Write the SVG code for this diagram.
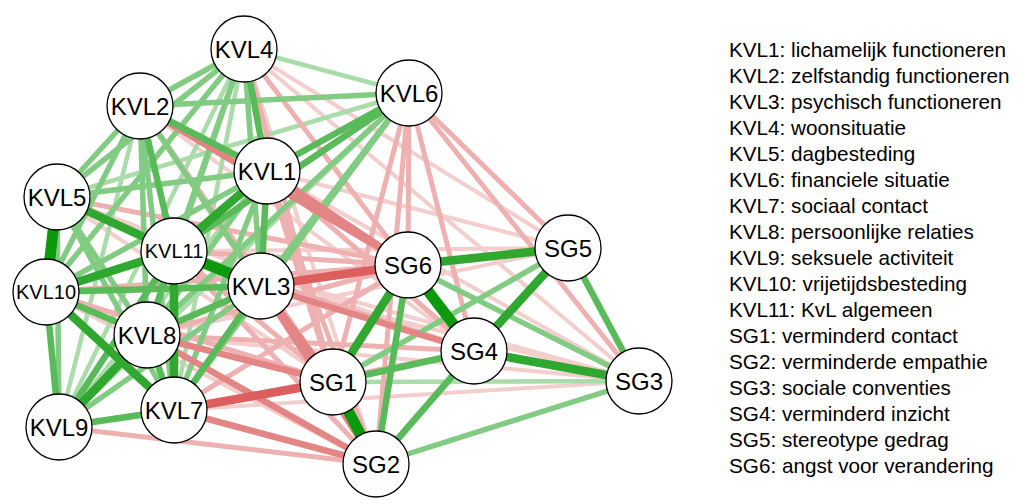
<svg xmlns="http://www.w3.org/2000/svg" width="1023" height="504" viewBox="0 0 1023 504">
<style>
line{stroke-linecap:butt}
.g1{stroke:#aadcaa;stroke-width:4.5}
.g2{stroke:#82cb82;stroke-width:5.5}
.g3{stroke:#58ba58;stroke-width:6.5}
.g4{stroke:#30a830;stroke-width:8.5}
.g5{stroke:#0c9a0c;stroke-width:11}
.r1{stroke:#f4cdcd;stroke-width:4}
.r2{stroke:#eeb0b0;stroke-width:5}
.r3{stroke:#e38585;stroke-width:6.5}
.r4{stroke:#dc5e5e;stroke-width:8.5}
.n circle{fill:#fff;stroke:#000;stroke-width:1.3}
.n text{font-family:"Liberation Sans",Arial,sans-serif;font-size:24px;text-anchor:middle;fill:#000}
.n text.s{font-size:20px}
.leg text{font-family:"Liberation Sans",Arial,sans-serif;font-size:20.7px;fill:#000}
</style>
<g id="connectors">
<line class="r1" x1="267" y1="171" x2="568" y2="248"/>
<line class="r1" x1="267" y1="171" x2="639" y2="381"/>
<line class="r1" x1="140" y1="106" x2="474" y2="351"/>
<line class="r1" x1="140" y1="106" x2="376" y2="464"/>
<line class="r1" x1="261" y1="286" x2="639" y2="381"/>
<line class="r1" x1="244" y1="49" x2="474" y2="351"/>
<line class="r1" x1="244" y1="49" x2="376" y2="464"/>
<line class="r1" x1="244" y1="49" x2="639" y2="381"/>
<line class="r1" x1="244" y1="49" x2="568" y2="248"/>
<line class="r1" x1="57" y1="197" x2="333" y2="382"/>
<line class="r1" x1="57" y1="197" x2="474" y2="351"/>
<line class="r1" x1="59" y1="427" x2="333" y2="382"/>
<line class="r1" x1="46" y1="292" x2="376" y2="464"/>
<line class="r1" x1="147" y1="335" x2="639" y2="381"/>
<line class="r1" x1="174" y1="410" x2="639" y2="381"/>
<line class="r1" x1="174" y1="251" x2="639" y2="381"/>
<line class="r1" x1="174" y1="251" x2="568" y2="248"/>
<line class="r1" x1="147" y1="335" x2="568" y2="248"/>
<line class="g1" x1="267" y1="171" x2="59" y2="427"/>
<line class="g1" x1="140" y1="106" x2="59" y2="427"/>
<line class="g1" x1="244" y1="49" x2="409" y2="93"/>
<line class="g1" x1="244" y1="49" x2="174" y2="410"/>
<line class="g1" x1="244" y1="49" x2="59" y2="427"/>
<line class="g1" x1="57" y1="197" x2="409" y2="93"/>
<line class="g1" x1="409" y1="93" x2="59" y2="427"/>
<line class="g1" x1="409" y1="93" x2="46" y2="292"/>
<line class="g1" x1="333" y1="382" x2="639" y2="381"/>
<line class="r2" x1="267" y1="171" x2="333" y2="382"/>
<line class="r2" x1="267" y1="171" x2="376" y2="464"/>
<line class="r2" x1="267" y1="171" x2="474" y2="351"/>
<line class="r2" x1="140" y1="106" x2="333" y2="382"/>
<line class="r2" x1="261" y1="286" x2="568" y2="248"/>
<line class="r2" x1="244" y1="49" x2="408" y2="265"/>
<line class="r2" x1="244" y1="49" x2="333" y2="382"/>
<line class="r2" x1="57" y1="197" x2="408" y2="265"/>
<line class="r2" x1="409" y1="93" x2="568" y2="248"/>
<line class="r2" x1="409" y1="93" x2="639" y2="381"/>
<line class="r2" x1="409" y1="93" x2="408" y2="265"/>
<line class="r2" x1="409" y1="93" x2="474" y2="351"/>
<line class="r2" x1="409" y1="93" x2="333" y2="382"/>
<line class="r2" x1="409" y1="93" x2="376" y2="464"/>
<line class="r2" x1="174" y1="410" x2="408" y2="265"/>
<line class="r2" x1="174" y1="410" x2="474" y2="351"/>
<line class="r2" x1="147" y1="335" x2="408" y2="265"/>
<line class="r2" x1="147" y1="335" x2="474" y2="351"/>
<line class="r2" x1="59" y1="427" x2="376" y2="464"/>
<line class="r2" x1="46" y1="292" x2="408" y2="265"/>
<line class="r2" x1="46" y1="292" x2="333" y2="382"/>
<line class="r2" x1="174" y1="251" x2="408" y2="265"/>
<line class="r2" x1="174" y1="251" x2="333" y2="382"/>
<line class="r2" x1="174" y1="251" x2="474" y2="351"/>
<line class="r2" x1="174" y1="251" x2="376" y2="464"/>
<line class="g2" x1="267" y1="171" x2="57" y2="197"/>
<line class="g2" x1="267" y1="171" x2="174" y2="410"/>
<line class="g2" x1="267" y1="171" x2="147" y2="335"/>
<line class="g2" x1="267" y1="171" x2="46" y2="292"/>
<line class="g2" x1="140" y1="106" x2="261" y2="286"/>
<line class="g2" x1="140" y1="106" x2="244" y2="49"/>
<line class="g2" x1="140" y1="106" x2="57" y2="197"/>
<line class="g2" x1="140" y1="106" x2="409" y2="93"/>
<line class="g2" x1="140" y1="106" x2="174" y2="410"/>
<line class="g2" x1="140" y1="106" x2="147" y2="335"/>
<line class="g2" x1="140" y1="106" x2="46" y2="292"/>
<line class="g2" x1="261" y1="286" x2="244" y2="49"/>
<line class="g2" x1="261" y1="286" x2="57" y2="197"/>
<line class="g2" x1="261" y1="286" x2="409" y2="93"/>
<line class="g2" x1="261" y1="286" x2="59" y2="427"/>
<line class="g2" x1="244" y1="49" x2="57" y2="197"/>
<line class="g2" x1="244" y1="49" x2="147" y2="335"/>
<line class="g2" x1="244" y1="49" x2="46" y2="292"/>
<line class="g2" x1="244" y1="49" x2="174" y2="251"/>
<line class="g2" x1="57" y1="197" x2="174" y2="410"/>
<line class="g2" x1="57" y1="197" x2="147" y2="335"/>
<line class="g2" x1="57" y1="197" x2="59" y2="427"/>
<line class="g2" x1="409" y1="93" x2="174" y2="410"/>
<line class="g2" x1="409" y1="93" x2="147" y2="335"/>
<line class="g2" x1="333" y1="382" x2="568" y2="248"/>
<line class="g2" x1="376" y1="464" x2="639" y2="381"/>
<line class="g2" x1="639" y1="381" x2="408" y2="265"/>
<line class="r3" x1="267" y1="171" x2="408" y2="265"/>
<line class="r3" x1="140" y1="106" x2="408" y2="265"/>
<line class="r3" x1="261" y1="286" x2="333" y2="382"/>
<line class="r3" x1="261" y1="286" x2="376" y2="464"/>
<line class="r3" x1="261" y1="286" x2="474" y2="351"/>
<line class="r3" x1="174" y1="410" x2="376" y2="464"/>
<line class="r3" x1="147" y1="335" x2="333" y2="382"/>
<line class="r3" x1="147" y1="335" x2="376" y2="464"/>
<line class="g3" x1="267" y1="171" x2="261" y2="286"/>
<line class="g3" x1="267" y1="171" x2="244" y2="49"/>
<line class="g3" x1="267" y1="171" x2="409" y2="93"/>
<line class="g3" x1="267" y1="171" x2="140" y2="106"/>
<line class="g3" x1="140" y1="106" x2="174" y2="251"/>
<line class="g3" x1="261" y1="286" x2="174" y2="410"/>
<line class="g3" x1="261" y1="286" x2="147" y2="335"/>
<line class="g3" x1="261" y1="286" x2="46" y2="292"/>
<line class="g3" x1="409" y1="93" x2="174" y2="251"/>
<line class="g3" x1="174" y1="410" x2="147" y2="335"/>
<line class="g3" x1="174" y1="410" x2="59" y2="427"/>
<line class="g3" x1="147" y1="335" x2="46" y2="292"/>
<line class="g3" x1="147" y1="335" x2="174" y2="251"/>
<line class="g3" x1="59" y1="427" x2="46" y2="292"/>
<line class="g3" x1="59" y1="427" x2="174" y2="251"/>
<line class="g3" x1="333" y1="382" x2="474" y2="351"/>
<line class="g3" x1="376" y1="464" x2="474" y2="351"/>
<line class="g3" x1="376" y1="464" x2="408" y2="265"/>
<line class="g3" x1="639" y1="381" x2="568" y2="248"/>
<line class="r4" x1="261" y1="286" x2="408" y2="265"/>
<line class="r4" x1="174" y1="410" x2="333" y2="382"/>
<line class="g4" x1="267" y1="171" x2="174" y2="251"/>
<line class="g4" x1="57" y1="197" x2="174" y2="251"/>
<line class="g4" x1="174" y1="410" x2="46" y2="292"/>
<line class="g4" x1="174" y1="410" x2="174" y2="251"/>
<line class="g4" x1="147" y1="335" x2="59" y2="427"/>
<line class="g4" x1="46" y1="292" x2="174" y2="251"/>
<line class="g4" x1="333" y1="382" x2="408" y2="265"/>
<line class="g4" x1="639" y1="381" x2="474" y2="351"/>
<line class="g4" x1="474" y1="351" x2="568" y2="248"/>
<line class="g4" x1="568" y1="248" x2="408" y2="265"/>
<line class="g5" x1="261" y1="286" x2="174" y2="251"/>
<line class="g5" x1="57" y1="197" x2="46" y2="292"/>
<line class="g5" x1="333" y1="382" x2="376" y2="464"/>
<line class="g5" x1="474" y1="351" x2="408" y2="265"/>
</g>
<g id="KVL1" class="n"><circle cx="267" cy="171" r="33"/><text x="267" y="179.5">KVL1</text></g>
<g id="KVL2" class="n"><circle cx="140" cy="106" r="33"/><text x="140" y="114.5">KVL2</text></g>
<g id="KVL3" class="n"><circle cx="261" cy="286" r="33"/><text x="261" y="294.5">KVL3</text></g>
<g id="KVL4" class="n"><circle cx="244" cy="49" r="33"/><text x="244" y="57.5">KVL4</text></g>
<g id="KVL5" class="n"><circle cx="57" cy="197" r="33"/><text x="57" y="205.5">KVL5</text></g>
<g id="KVL6" class="n"><circle cx="409" cy="93" r="33"/><text x="409" y="101.5">KVL6</text></g>
<g id="KVL7" class="n"><circle cx="174" cy="410" r="33"/><text x="174" y="418.5">KVL7</text></g>
<g id="KVL8" class="n"><circle cx="147" cy="335" r="33"/><text x="147" y="343.5">KVL8</text></g>
<g id="KVL9" class="n"><circle cx="59" cy="427" r="33"/><text x="59" y="435.5">KVL9</text></g>
<g id="KVL10" class="n"><circle cx="46" cy="292" r="33"/><text class="s" x="46" y="299.2">KVL10</text></g>
<g id="KVL11" class="n"><circle cx="174" cy="251" r="33"/><text class="s" x="174" y="258.2">KVL11</text></g>
<g id="SG1" class="n"><circle cx="333" cy="382" r="33"/><text x="333" y="390.5">SG1</text></g>
<g id="SG2" class="n"><circle cx="376" cy="464" r="33"/><text x="376" y="472.5">SG2</text></g>
<g id="SG3" class="n"><circle cx="639" cy="381" r="33"/><text x="639" y="389.5">SG3</text></g>
<g id="SG4" class="n"><circle cx="474" cy="351" r="33"/><text x="474" y="359.5">SG4</text></g>
<g id="SG5" class="n"><circle cx="568" cy="248" r="33"/><text x="568" y="256.5">SG5</text></g>
<g id="SG6" class="n"><circle cx="408" cy="265" r="33"/><text x="408" y="273.5">SG6</text></g>
<g id="legend" class="leg">
<text x="729" y="57.3">KVL1: lichamelijk functioneren</text>
<text x="729" y="83.3">KVL2: zelfstandig functioneren</text>
<text x="729" y="109.3">KVL3: psychisch functioneren</text>
<text x="729" y="135.3">KVL4: woonsituatie</text>
<text x="729" y="161.3">KVL5: dagbesteding</text>
<text x="729" y="187.3">KVL6: financiele situatie</text>
<text x="729" y="213.3">KVL7: sociaal contact</text>
<text x="729" y="239.3">KVL8: persoonlijke relaties</text>
<text x="729" y="265.3">KVL9: seksuele activiteit</text>
<text x="729" y="291.3">KVL10: vrijetijdsbesteding</text>
<text x="729" y="317.3">KVL11: KvL algemeen</text>
<text x="729" y="343.3">SG1: verminderd contact</text>
<text x="729" y="369.3">SG2: verminderde empathie</text>
<text x="729" y="395.3">SG3: sociale conventies</text>
<text x="729" y="421.3">SG4: verminderd inzicht</text>
<text x="729" y="447.3">SG5: stereotype gedrag</text>
<text x="729" y="473.3">SG6: angst voor verandering</text>
</g>
</svg>
